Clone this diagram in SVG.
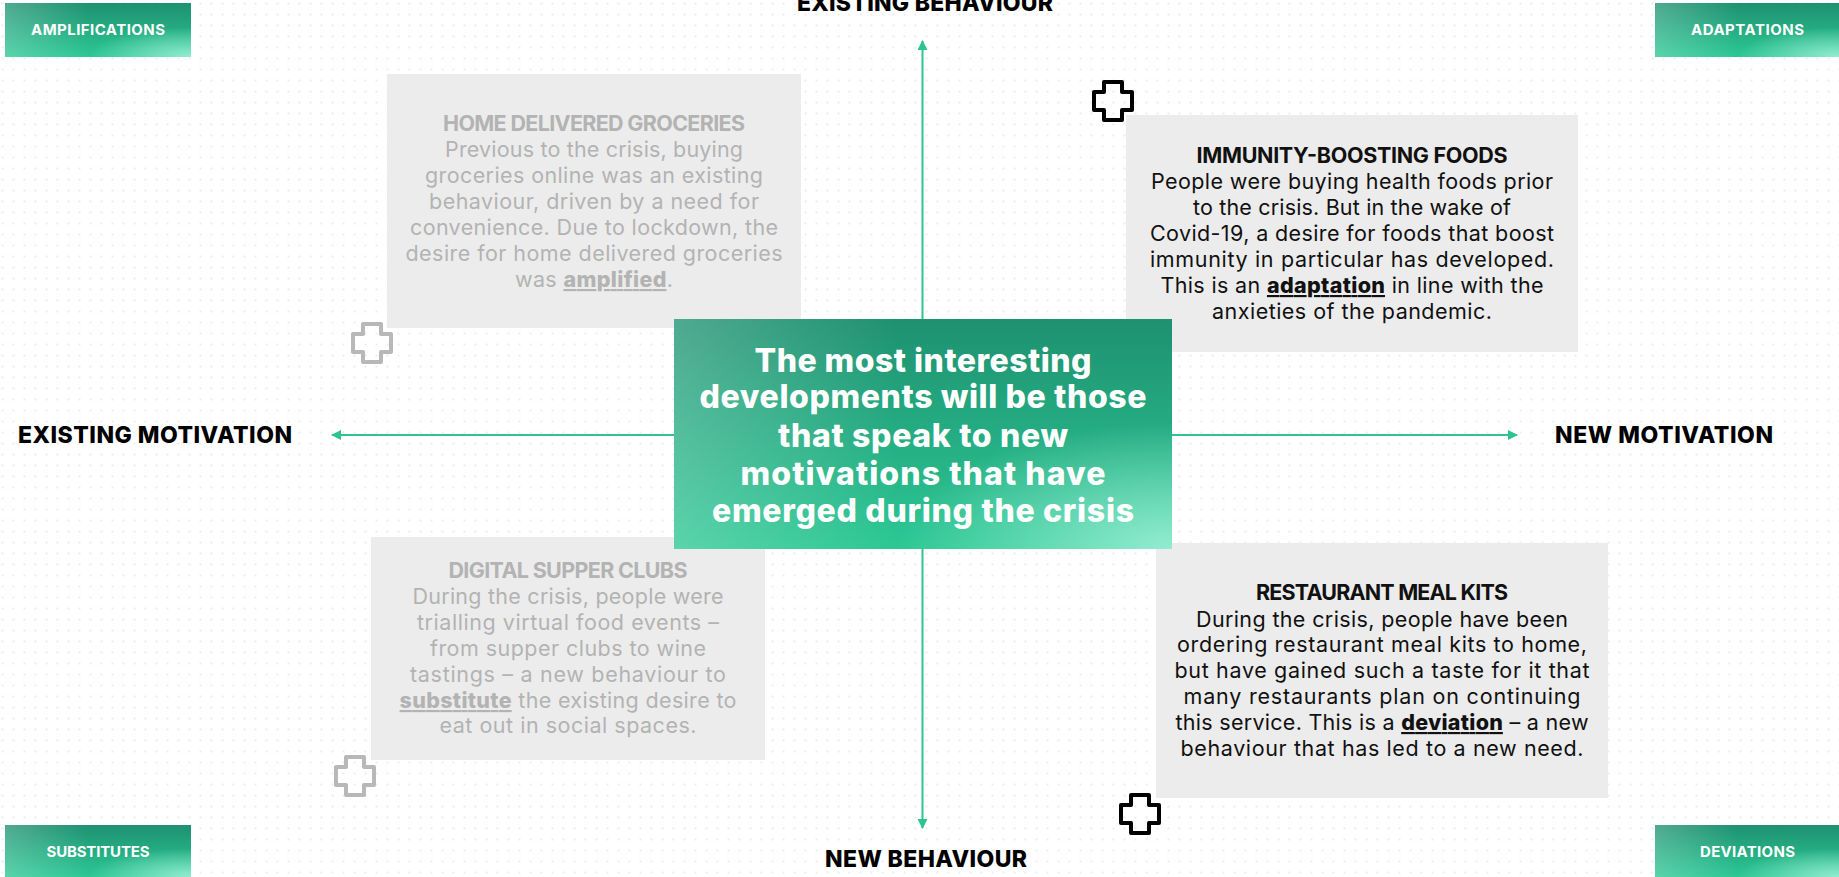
<svg xmlns="http://www.w3.org/2000/svg" width="1839" height="877" viewBox="0 0 1839 877">
<style>
.card{fill:#ececec}
.grey{fill:#b3b3b3}
.dark{fill:#111111}
.ct{font-family:Inter,"Open Sans","Liberation Sans",sans-serif;font-size:21.5px;text-anchor:middle}
.tt{font-weight:700}
.u{font-weight:800;text-decoration:underline}
.axl{font-family:Inter,"Open Sans","Liberation Sans",sans-serif;font-size:23px;font-weight:800;fill:#000;text-anchor:middle}
.tag{font-family:Inter,"Open Sans","Liberation Sans",sans-serif;font-size:15px;font-weight:700;fill:#ffffff;text-anchor:middle}
.mid{font-family:Inter,"Open Sans","Liberation Sans",sans-serif;font-size:32px;font-weight:800;fill:#ffffff;text-anchor:middle}
.axis{stroke:#2ec490;stroke-width:2;fill:none}
.crossB{fill:none;stroke:#000;stroke-width:4;stroke-linejoin:round}
.crossG{fill:none;stroke:#b8b8b8;stroke-width:4;stroke-linejoin:round}
</style>
<defs>
<pattern id="dots" width="11" height="11" patternUnits="userSpaceOnUse" x="1.5" y="2.5">
<circle cx="1" cy="1" r="1" fill="#e3e7e5"/>
</pattern>
<linearGradient id="gBase" x1="0" y1="0" x2="0" y2="1">
<stop offset="0" stop-color="#1e9170"/>
<stop offset="1" stop-color="#2cc894"/>
</linearGradient>
<radialGradient id="gBR" cx="1" cy="1" r="0.55">
<stop offset="0" stop-color="#9ff0d6" stop-opacity="0.9"/>
<stop offset="1" stop-color="#9ff0d6" stop-opacity="0"/>
</radialGradient>
<linearGradient id="gL" x1="0" y1="0" x2="1" y2="0">
<stop offset="0" stop-color="#ffffff" stop-opacity="0.22"/>
<stop offset="0.45" stop-color="#ffffff" stop-opacity="0"/>
</linearGradient>
<marker id="arr" viewBox="0 0 10 10" refX="9" refY="5" markerWidth="5" markerHeight="5" orient="auto-start-reverse" markerUnits="strokeWidth">
<path d="M0,0 L10,5 L0,10 Z" fill="#2ec490"/>
</marker>
<path id="plus" d="M12,2 H30 V12 H40 V30 H30 V40 H12 V30 H2 V12 H12 Z"/>
</defs>

<rect width="1839" height="877" fill="#ffffff"/>
<rect width="1839" height="877" fill="url(#dots)"/>

<g id="connectors">
<line class="axis" x1="922.5" y1="435" x2="922.5" y2="41" marker-end="url(#arr)"/>
<line class="axis" x1="922.5" y1="435" x2="922.5" y2="828" marker-end="url(#arr)"/>
<line class="axis" x1="923" y1="435" x2="332" y2="435" marker-end="url(#arr)"/>
<line class="axis" x1="923" y1="435" x2="1517" y2="435" marker-end="url(#arr)"/>
</g>

<g id="label-existing-behaviour"><text class="axl" x="925" y="11" textLength="256">EXISTING BEHAVIOUR</text></g>
<g id="label-new-behaviour"><text class="axl" x="926" y="867" textLength="202">NEW BEHAVIOUR</text></g>
<g id="label-existing-motivation"><text class="axl" x="155" y="443" textLength="274">EXISTING MOTIVATION</text></g>
<g id="label-new-motivation"><text class="axl" x="1664" y="443" textLength="218">NEW MOTIVATION</text></g>

<g id="tag-amplifications">
<rect x="5" y="3" width="186" height="54" fill="url(#gBase)"/>
<rect x="5" y="3" width="186" height="54" fill="url(#gL)"/>
<rect x="5" y="3" width="186" height="54" fill="url(#gBR)"/>
<text class="tag" x="98" y="35" textLength="134">AMPLIFICATIONS</text>
</g>
<g id="tag-adaptations">
<rect x="1655" y="3" width="184" height="54" fill="url(#gBase)"/>
<rect x="1655" y="3" width="184" height="54" fill="url(#gL)"/>
<rect x="1655" y="3" width="184" height="54" fill="url(#gBR)"/>
<text class="tag" x="1747.5" y="35" textLength="113">ADAPTATIONS</text>
</g>
<g id="tag-substitutes">
<rect x="5" y="825" width="186" height="52" fill="url(#gBase)"/>
<rect x="5" y="825" width="186" height="52" fill="url(#gL)"/>
<rect x="5" y="825" width="186" height="52" fill="url(#gBR)"/>
<text class="tag" x="98" y="857" textLength="103">SUBSTITUTES</text>
</g>
<g id="tag-deviations">
<rect x="1655" y="825" width="184" height="52" fill="url(#gBase)"/>
<rect x="1655" y="825" width="184" height="52" fill="url(#gL)"/>
<rect x="1655" y="825" width="184" height="52" fill="url(#gBR)"/>
<text class="tag" x="1747.5" y="857" textLength="95">DEVIATIONS</text>
</g>

<g id="card-home-delivered-groceries">
<rect class="card" x="387" y="74" width="414" height="254"/>
<text class="ct tt grey" x="594" y="131" textLength="302">HOME DELIVERED GROCERIES</text>
<text class="ct grey" x="594" y="157" textLength="298">Previous to the crisis, buying</text>
<text class="ct grey" x="594" y="183" textLength="338">groceries online was an existing</text>
<text class="ct grey" x="594" y="209" textLength="330">behaviour, driven by a need for</text>
<text class="ct grey" x="594" y="235" textLength="368">convenience. Due to lockdown, the</text>
<text class="ct grey" x="594" y="261" textLength="377">desire for home delivered groceries</text>
<text class="ct grey" x="594" y="287" textLength="158">was <tspan class="u">amplified</tspan>.</text>
</g>

<g id="card-immunity-boosting-foods">
<rect class="card" x="1126" y="115" width="452" height="237"/>
<text class="ct tt dark" x="1352" y="163" textLength="311">IMMUNITY-BOOSTING FOODS</text>
<text class="ct dark" x="1352" y="189" textLength="402">People were buying health foods prior</text>
<text class="ct dark" x="1352" y="215" textLength="318">to the crisis. But in the wake of</text>
<text class="ct dark" x="1352" y="241" textLength="404">Covid-19, a desire for foods that boost</text>
<text class="ct dark" x="1352" y="267" textLength="404">immunity in particular has developed.</text>
<text class="ct dark" x="1352" y="293" textLength="383">This is an <tspan class="u">adaptation</tspan> in line with the</text>
<text class="ct dark" x="1352" y="319" textLength="280">anxieties of the pandemic.</text>
</g>

<g id="card-digital-supper-clubs">
<rect class="card" x="371" y="537" width="394" height="223"/>
<text class="ct tt grey" x="568" y="578" textLength="239">DIGITAL SUPPER CLUBS</text>
<text class="ct grey" x="568" y="604" textLength="311">During the crisis, people were</text>
<text class="ct grey" x="568" y="630" textLength="302">trialling virtual food events –</text>
<text class="ct grey" x="568" y="656" textLength="276">from supper clubs to wine</text>
<text class="ct grey" x="568" y="682" textLength="316">tastings – a new behaviour to</text>
<text class="ct grey" x="568" y="708" textLength="337"><tspan class="u">substitute</tspan> the existing desire to</text>
<text class="ct grey" x="568" y="733" textLength="257">eat out in social spaces.</text>
</g>

<g id="card-restaurant-meal-kits">
<rect class="card" x="1156" y="543" width="452" height="255"/>
<text class="ct tt dark" x="1382" y="600" textLength="252">RESTAURANT MEAL KITS</text>
<text class="ct dark" x="1382" y="627" textLength="372">During the crisis, people have been</text>
<text class="ct dark" x="1382" y="652" textLength="410">ordering restaurant meal kits to home,</text>
<text class="ct dark" x="1382" y="678" textLength="415">but have gained such a taste for it that</text>
<text class="ct dark" x="1382" y="704" textLength="397">many restaurants plan on continuing</text>
<text class="ct dark" x="1382" y="730" textLength="413">this service. This is a <tspan class="u">deviation</tspan> – a new</text>
<text class="ct dark" x="1382" y="756" textLength="403">behaviour that has led to a new need.</text>
</g>

<g id="center-statement">
<rect x="674" y="319" width="498" height="230" fill="url(#gBase)"/>
<rect x="674" y="319" width="498" height="230" fill="url(#gL)"/>
<rect x="674" y="319" width="498" height="230" fill="url(#gBR)"/>
<text class="mid" x="923" y="372" textLength="337">The most interesting</text>
<text class="mid" x="923" y="408" textLength="447">developments will be those</text>
<text class="mid" x="923" y="447" textLength="290">that speak to new</text>
<text class="mid" x="923" y="485" textLength="365">motivations that have</text>
<text class="mid" x="923" y="522" textLength="422">emerged during the crisis</text>
</g>

<g id="plus-top-left"><use href="#plus" class="crossG" transform="translate(351,322)"/></g>
<g id="plus-bottom-left"><use href="#plus" class="crossG" transform="translate(334,755)"/></g>
<g id="plus-top-right"><use href="#plus" class="crossB" transform="translate(1092,80)"/></g>
<g id="plus-bottom-right"><use href="#plus" class="crossB" transform="translate(1119,793)"/></g>
</svg>
